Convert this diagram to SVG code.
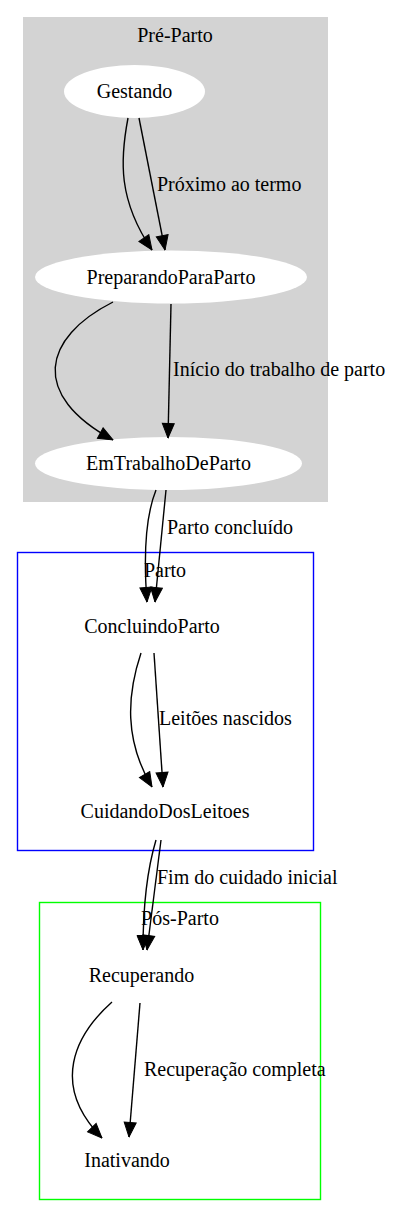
<svg xmlns="http://www.w3.org/2000/svg" width="401" height="1218" viewBox="0 0 401 1218">
<style>
text{font-family:"Liberation Serif","Times New Roman",serif;font-size:20px;fill:#000}
.c{text-anchor:middle}
.e{fill:none;stroke:#000;stroke-width:1.4}
</style>
<defs>
<marker id="ah" markerUnits="userSpaceOnUse" markerWidth="16" markerHeight="14" refX="14.5" refY="6" orient="auto" viewBox="-1 -1 16 14">
<path d="M0,0 L14.5,6 L0,12 z" fill="#000" stroke="#000" stroke-width="1"/>
</marker>
</defs>
<rect width="401" height="1218" fill="#fff"/>
<g id="cluster_preparto">
<rect x="23" y="17" width="305" height="485" fill="#d3d3d3"/>
<text class="c" x="175" y="42">Pré-Parto</text>
</g>
<g id="cluster_parto">
<rect x="17.5" y="552.5" width="296" height="298" fill="none" stroke="#0000ff" stroke-width="1.4"/>
<text class="c" x="165" y="577">Parto</text>
</g>
<g id="cluster_posparto">
<rect x="39.5" y="902.5" width="281" height="297" fill="none" stroke="#00ff00" stroke-width="1.4"/>
<text class="c" x="180" y="925">Pós-Parto</text>
</g>
<g id="Gestando">
<ellipse cx="134.5" cy="91.5" rx="70.5" ry="26.5" fill="#fff"/>
<text class="c" x="134.5" y="98">Gestando</text>
</g>
<g id="PreparandoParaParto">
<ellipse cx="171" cy="277" rx="136" ry="26.5" fill="#fff"/>
<text class="c" x="171" y="284">PreparandoParaParto</text>
</g>
<g id="EmTrabalhoDeParto">
<ellipse cx="168.5" cy="463.5" rx="133.5" ry="26.5" fill="#fff"/>
<text class="c" x="168.5" y="470">EmTrabalhoDeParto</text>
</g>
<g id="ConcluindoParto">
<text class="c" x="152" y="633">ConcluindoParto</text>
</g>
<g id="CuidandoDosLeitoes">
<text class="c" x="165" y="818">CuidandoDosLeitoes</text>
</g>
<g id="Recuperando">
<text class="c" x="141.5" y="982">Recuperando</text>
</g>
<g id="Inativando">
<text class="c" x="127" y="1167">Inativando</text>
</g>
<g id="edges">
<path class="e" marker-end="url(#ah)" d="M128,118 C120,160 118,200 152,250"/>
<path class="e" marker-end="url(#ah)" d="M139,118 L165,250"/>
<text x="157" y="191">Próximo ao termo</text>
<path class="e" marker-end="url(#ah)" d="M113,302 C42,338 30,395 113,440"/>
<path class="e" marker-end="url(#ah)" d="M171,304 L168,438"/>
<text x="173" y="376">Início do trabalho de parto</text>
<path class="e" marker-end="url(#ah)" d="M156,490 C146,515 143,550 147,602"/>
<path class="e" marker-end="url(#ah)" d="M166,490 L155,602"/>
<text x="167" y="534">Parto concluído</text>
<path class="e" marker-end="url(#ah)" d="M141,653 C127,695 124,740 152,787"/>
<path class="e" marker-end="url(#ah)" d="M154,653 L163,787"/>
<text x="159" y="725">Leitões nascidos</text>
<path class="e" marker-end="url(#ah)" d="M156,840 C147,870 143,905 143,950"/>
<path class="e" marker-end="url(#ah)" d="M161,840 L147,950"/>
<text x="157" y="884">Fim do cuidado inicial</text>
<path class="e" marker-end="url(#ah)" d="M112,1002 C75,1035 50,1085 102,1138"/>
<path class="e" marker-end="url(#ah)" d="M140,1003 L129,1137"/>
<text x="144" y="1076">Recuperação completa</text>
</g>
</svg>
